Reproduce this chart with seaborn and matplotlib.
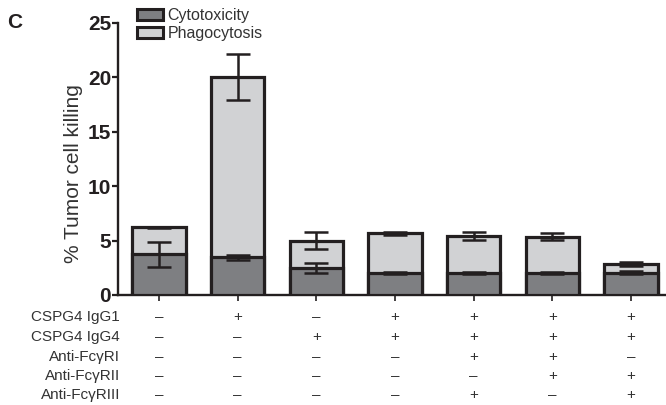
import matplotlib
matplotlib.use("Agg")
import matplotlib.pyplot as plt
import matplotlib.transforms as mtransforms
from matplotlib.patches import Patch
import numpy as np
import pandas as pd
import seaborn as sns

# Mean tumour-cell killing per condition, split into two mechanisms
conditions = ["1", "2", "3", "4", "5", "6", "7"]
cytotoxicity = [3.75, 3.45, 2.45, 2.0, 2.0, 2.0, 2.05]
cytotoxicity_err = [1.15, 0.2, 0.45, 0.1, 0.1, 0.1, 0.15]
phagocytosis = [2.45, 16.55, 2.55, 3.65, 3.4, 3.35, 0.8]
phagocytosis_err = [0.05, 2.1, 0.75, 0.15, 0.35, 0.3, 0.15]

# Treatment table under the x axis
row_labels = ["CSPG4 IgG1", "CSPG4 IgG4", "Anti-Fc\u03b3RI", "Anti-Fc\u03b3RII", "Anti-Fc\u03b3RIII"]
row_signs = [
    ["-", "+", "-", "+", "+", "+", "+"],
    ["-", "-", "+", "+", "+", "+", "+"],
    ["-", "-", "-", "-", "+", "+", "-"],
    ["-", "-", "-", "-", "-", "+", "+"],
    ["-", "-", "-", "-", "+", "-", "+"],
]

y_ticks = [0, 5, 10, 15, 20, 25]

DARK = "#7e7f82"
LIGHT = "#d1d2d4"
INK = "#231f20"
TEXT = "#333333"

sns.set_theme(style="ticks")
plt.rcParams["font.family"] = ["Liberation Sans", "DejaVu Sans"]

df = pd.DataFrame({
    "condition": conditions,
    "cytotoxicity": cytotoxicity,
    "phagocytosis": phagocytosis,
})
df["total"] = df["cytotoxicity"] + df["phagocytosis"]

W, H = 666, 405
fig = plt.figure(figsize=(W / 100, H / 100), dpi=100)
ax = fig.add_axes([118 / W, 1 - 295 / H, (W - 118) / W, 272.3 / H])

# Stacked bars: full height in light grey, lower segment in dark grey
sns.barplot(data=df, x="condition", y="total", order=conditions, color=LIGHT,
            width=0.68, edgecolor=INK, linewidth=2.3, saturation=1, ax=ax,
            label="Phagocytosis", zorder=2)
sns.barplot(data=df, x="condition", y="cytotoxicity", order=conditions, color=DARK,
            width=0.68, edgecolor=INK, linewidth=2.3, saturation=1, ax=ax,
            label="Cytotoxicity", zorder=3)

xpos = np.arange(len(conditions))
ax.errorbar(xpos, df["cytotoxicity"], yerr=cytotoxicity_err, fmt="none",
            ecolor=INK, elinewidth=1.8, capsize=8.5, capthick=1.8, zorder=5)
ax.errorbar(xpos, df["total"], yerr=phagocytosis_err, fmt="none",
            ecolor=INK, elinewidth=1.8, capsize=8.5, capthick=1.8, zorder=5)

ax.set_xlim(-0.521, 6.445)
ax.set_ylim(0, 25)
ax.set_yticks(y_ticks)
ax.set_yticklabels([str(t) for t in y_ticks], fontsize=15, fontweight="bold", color=INK)
ax.set_xticks(xpos)
ax.set_xticklabels([])
ax.set_xlabel("")
ax.set_ylabel("% Tumor cell killing", fontsize=15, color=TEXT)
ax.yaxis.set_label_coords(-0.064, 0.445)
ax.tick_params(axis="y", length=4, width=1.6, color=INK, pad=1)
ax.tick_params(axis="x", length=4, width=1.2, color=INK)
sns.despine(ax=ax)
for side in ("left", "bottom"):
    ax.spines[side].set_linewidth(1.7)
    ax.spines[side].set_color(INK)

# Legend
handles = [Patch(facecolor=DARK, edgecolor=INK, linewidth=2.2, label="Cytotoxicity"),
           Patch(facecolor=LIGHT, edgecolor=INK, linewidth=2.2, label="Phagocytosis")]
ax.legend(handles=handles, loc="upper left", bbox_to_anchor=(137 / W, 1 - 8 / H),
          bbox_transform=fig.transFigure, frameon=False, fontsize=11.5,
          handlelength=1.6, handleheight=0.68, handletextpad=0.3,
          labelspacing=0.18, borderpad=0, borderaxespad=0, labelcolor=TEXT)

# Panel letter
fig.text(7 / W, 1 - 23 / H, "C", fontsize=15, fontweight="bold", color=INK,
         ha="left", va="center")

# Treatment table
trans = mtransforms.blended_transform_factory(ax.transData, fig.transFigure)
row_y = [317, 337, 357, 376, 395]
for label, signs, yp in zip(row_labels, row_signs, row_y):
    yf = 1 - yp / H
    fig.text(120 / W, yf, label, fontsize=11, color=TEXT, ha="right", va="center")
    for xi, s in zip(xpos, signs):
        txt = "+" if s == "+" else "\u2013"
        ax.text(xi, yf, txt, transform=trans, fontsize=11, color=TEXT,
                ha="center", va="center", clip_on=False)

fig.savefig("out.png", dpi=100)
